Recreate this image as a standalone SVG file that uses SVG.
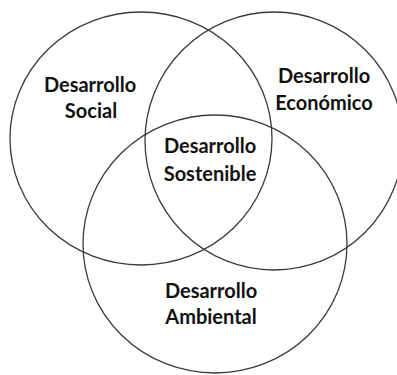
<svg xmlns="http://www.w3.org/2000/svg" width="397" height="375" viewBox="0 0 397 375">
<style>
.c{fill:none;stroke:#3a3a3a;stroke-width:1.3}
.t{font-family:Lato,"Open Sans","Liberation Sans",sans-serif;font-weight:bold;font-size:20px;fill:#111;text-anchor:middle}
</style>
<rect width="397" height="375" fill="#fff"/>
<g id="social">
<ellipse class="c" cx="141" cy="138.5" rx="131" ry="126.5"/>
<text class="t" x="90" y="92">Desarrollo</text>
<text class="t" x="91" y="118">Social</text>
</g>
<g id="economico">
<ellipse class="c" cx="274" cy="141" rx="129" ry="129"/>
<text class="t" x="324" y="83">Desarrollo</text>
<text class="t" x="324" y="110">Económico</text>
</g>
<g id="ambiental">
<ellipse class="c" cx="215" cy="244" rx="132" ry="129"/>
<text class="t" x="211" y="298">Desarrollo</text>
<text class="t" x="211" y="324">Ambiental</text>
</g>
<g id="sostenible">
<text class="t" x="210" y="153">Desarrollo</text>
<text class="t" x="210" y="181">Sostenible</text>
</g>
<g id="connectors"></g>
</svg>
